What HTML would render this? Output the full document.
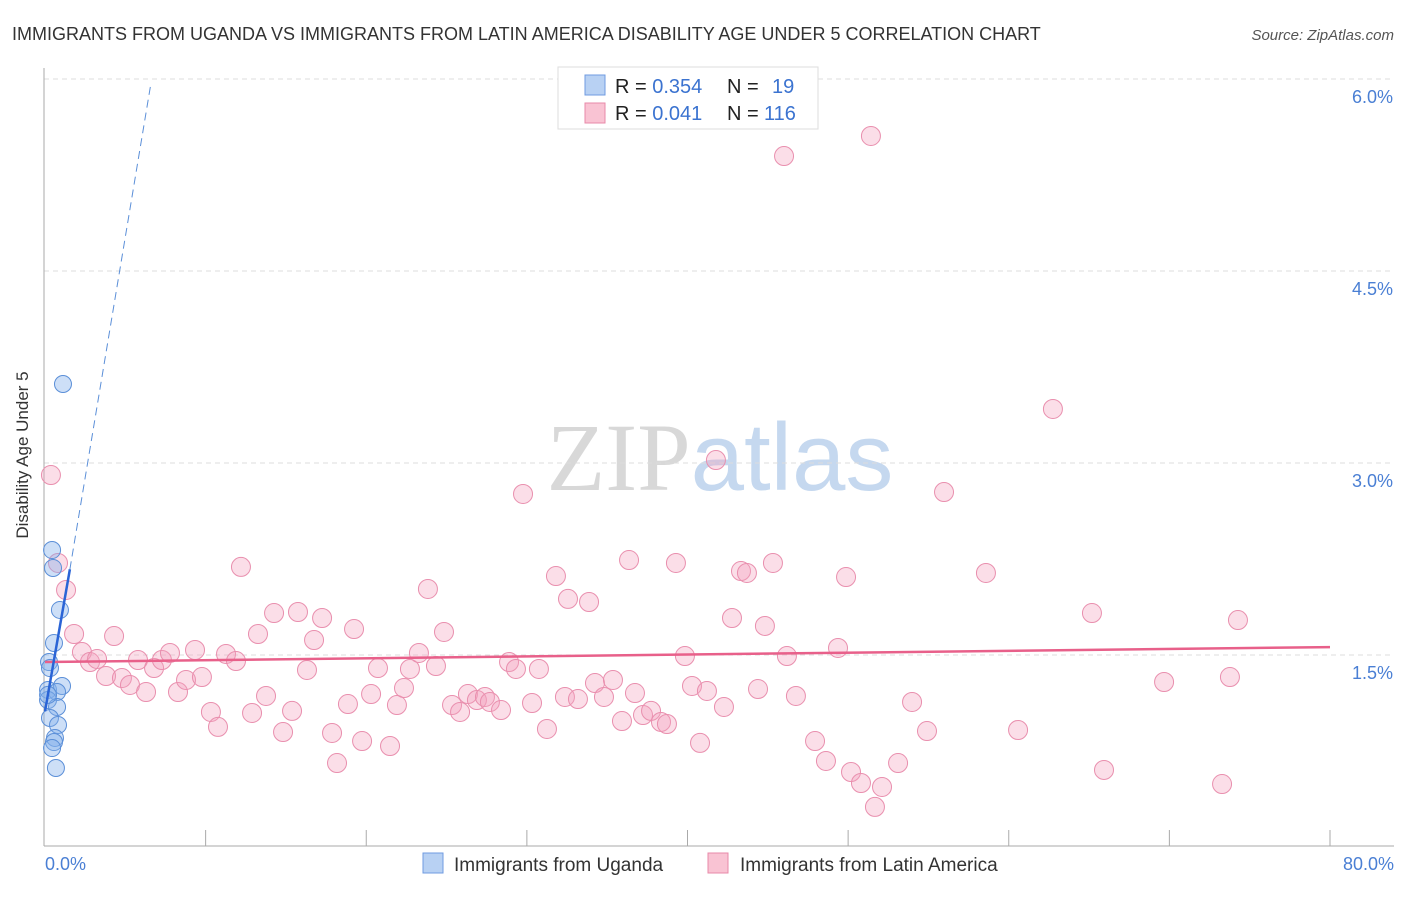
<!DOCTYPE html>
<html><head><meta charset="utf-8"><style>
body{margin:0;background:#fff;font-family:"Liberation Sans",sans-serif;}
svg text{font-family:"Liberation Sans",sans-serif;}
</style></head><body>
<svg width="1406" height="892" xmlns="http://www.w3.org/2000/svg">
<text x="12" y="40" font-size="18" fill="#333">IMMIGRANTS FROM UGANDA VS IMMIGRANTS FROM LATIN AMERICA DISABILITY AGE UNDER 5 CORRELATION CHART</text>
<text x="1394" y="40" font-size="15" fill="#555" font-style="italic" text-anchor="end">Source: ZipAtlas.com</text>
<text x="720" y="490" font-size="96" text-anchor="middle"><tspan fill="#d8d8d8" font-family="Liberation Serif">ZIP</tspan><tspan fill="#c5d8ef">atlas</tspan></text>
<g id="grid"></g>
<line x1="44" y1="68" x2="44" y2="846" stroke="#aaa"/>
<line x1="44" y1="846" x2="1394" y2="846" stroke="#aaa"/>
<g id="xticks"></g>
<text x="28" y="455" font-size="17" fill="#333" text-anchor="middle" transform="rotate(-90 28 455)">Disability Age Under 5</text>
<text x="45" y="870" font-size="18" fill="#4a7fd4">0.0%</text>
<text x="1394" y="870" font-size="18" fill="#4a7fd4" text-anchor="end">80.0%</text>
<g id="pink"></g><g id="blue"></g><g id="trends"></g>
<g>
<rect x="558" y="67" width="260" height="62" fill="#fff" stroke="#ddd"/>
<rect x="585" y="75" width="20" height="20" fill="#b8d1f3" stroke="#6f9be0"/>
<rect x="585" y="103" width="20" height="20" fill="#f9c3d3" stroke="#e88aa8"/>
<text x="615" y="93" font-size="20" fill="#222">R = <tspan fill="#3b73d0">0.354</tspan><tspan x="727">N = </tspan><tspan x="772" fill="#3b73d0">19</tspan></text>
<text x="615" y="120" font-size="20" fill="#222">R = <tspan fill="#3b73d0">0.041</tspan><tspan x="727">N = </tspan><tspan x="764" fill="#3b73d0">116</tspan></text>
</g>
<g>
<rect x="423" y="853" width="20" height="20" fill="#b8d1f3" stroke="#6f9be0"/>
<text x="454" y="871" font-size="19" fill="#333">Immigrants from Uganda</text>
<rect x="708" y="853" width="20" height="20" fill="#f9c3d3" stroke="#e88aa8"/>
<text x="740" y="871" font-size="19" fill="#333">Immigrants from Latin America</text>
</g>
</svg>
<script>
const NS="http://www.w3.org/2000/svg";
const yTicks=[1.5,3.0,4.5,6.0];
const yTickLabels=["1.5%","3.0%","4.5%","6.0%"];
const xTicks=[10,20,30,40,50,60,70,80];
const bluePx=[[63,384],[52,550],[53,568],[60,610],[54,643],[49,662],[50,668],[48,690],[62,686],[57,692],[48,700],[57,707],[50,718],[58,725],[55,738],[54,742],[52,748],[56,768],[48,695]];
const pinkPx=[[51,475],[58,563],[66,590],[74,634],[82,652],[90,662],[97,659],[106,676],[114,636],[122,678],[130,685],[138,660],[146,692],[154,668],[162,660],[170,653],[178,692],[186,680],[195,650],[202,677],[211,712],[218,727],[226,654],[236,661],[241,567],[252,713],[258,634],[266,696],[274,613],[283,732],[292,711],[298,612],[307,670],[314,640],[322,618],[332,733],[337,763],[348,704],[354,629],[362,741],[371,694],[378,668],[390,746],[397,705],[404,688],[410,669],[419,653],[428,589],[436,666],[444,632],[452,705],[460,712],[468,694],[477,700],[485,697],[490,702],[501,710],[509,662],[516,669],[523,494],[532,703],[539,669],[547,729],[556,576],[565,697],[568,599],[578,699],[589,602],[595,683],[604,697],[613,680],[622,721],[629,560],[635,693],[643,715],[651,711],[661,722],[667,724],[676,563],[685,656],[692,686],[700,743],[707,691],[716,460],[724,707],[732,618],[741,571],[747,573],[758,689],[765,626],[773,563],[784,156],[787,656],[796,696],[815,741],[826,761],[838,648],[846,577],[851,772],[861,783],[871,136],[875,807],[882,787],[898,763],[912,702],[927,731],[944,492],[986,573],[1018,730],[1053,409],[1092,613],[1104,770],[1164,682],[1222,784],[1230,677],[1238,620]];
// data values (x in %, y in %)
const blueX=bluePx.map(p=>+((p[0]-45)/16.0625).toFixed(2));
const blueY=bluePx.map(p=>+((847-p[1])/128).toFixed(3));
const pinkX=pinkPx.map(p=>+((p[0]-45)/16.0625).toFixed(2));
const pinkY=pinkPx.map(p=>+((847-p[1])/128).toFixed(3));
const pinkTrend=[[0,1.445],[80,1.562]];
const blueTrend=[[0,1.06],[1.55,2.17]];
const blueTrendExt=[[1.55,2.17],[6.6,5.97]];
const sx=v=>45+v*16.0625, sy=v=>847-v*128;
function mk(t,a,p){const e=document.createElementNS(NS,t);for(const k in a)e.setAttribute(k,a[k]);document.getElementById(p).appendChild(e);return e;}
yTicks.forEach((v,i)=>{
 const l=mk("line",{x1:44,x2:1394,y1:sy(v),y2:sy(v),stroke:"#ddd","stroke-dasharray":"5,4"},"grid");
 
 
 const t=mk("text",{x:1393,y:sy(v)+24,"font-size":18,fill:"#4a7fd4","text-anchor":"end"},"grid");
 t.textContent=yTickLabels[i];
 
 
});
xTicks.forEach(v=>{
 const l=mk("line",{x1:sx(v),x2:sx(v),y1:830,y2:846,stroke:"#aaa"},"xticks");
 
 
});
pinkX.forEach((x,i)=>{
 const c=mk("circle",{cx:sx(x),cy:sy(pinkY[i]),r:9.5,fill:"rgba(243,160,188,0.35)",stroke:"#e98fae","stroke-width":1},"pink");
 
 
});
blueX.forEach((x,i)=>{
 const c=mk("circle",{cx:sx(x),cy:sy(blueY[i]),r:8.5,fill:"rgba(130,175,235,0.4)",stroke:"#5b8fd8","stroke-width":1},"blue");
 
 
});
let l=mk("line",{x1:sx(pinkTrend[0][0]),y1:sy(pinkTrend[0][1]),x2:sx(pinkTrend[1][0]),y2:sy(pinkTrend[1][1]),stroke:"#e8608a","stroke-width":2.5},"trends");


l=mk("line",{x1:sx(blueTrend[0][0]),y1:sy(blueTrend[0][1]),x2:sx(blueTrend[1][0]),y2:sy(blueTrend[1][1]),stroke:"#2a64d6","stroke-width":2.5},"trends");


l=mk("line",{x1:sx(blueTrendExt[0][0]),y1:sy(blueTrendExt[0][1]),x2:sx(blueTrendExt[1][0]),y2:sy(blueTrendExt[1][1]),stroke:"#5b8fd8","stroke-width":1,"stroke-dasharray":"8,5"},"trends");


</script>
</body></html>
